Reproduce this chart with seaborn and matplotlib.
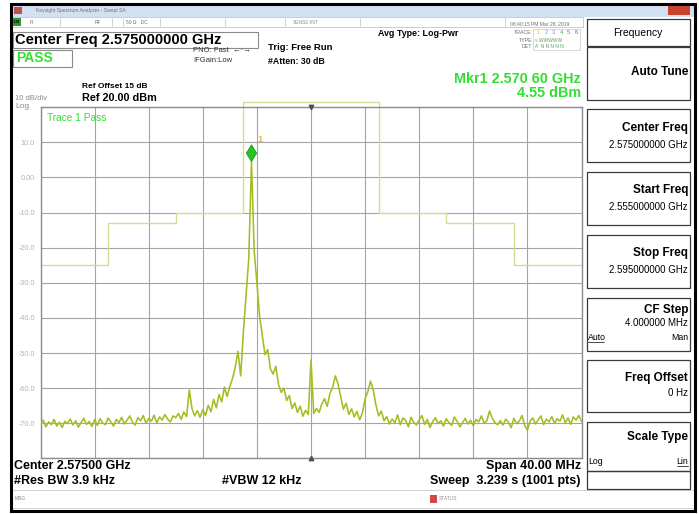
import numpy as np
import matplotlib
matplotlib.use("Agg")
import matplotlib.pyplot as plt
from matplotlib.patches import Rectangle
import seaborn as sns

# screenshot size in px
W, H = 699, 514

# sweep settings (GHz) and the trace, every 0.2 MHz
start_ghz = 2.555
stop_ghz = 2.595
trace_dbm = [
    -70.2, -69.1, -71.0, -69.6, -70.4, -68.9, -70.8, -69.7, -71.2, -69.4,
    -70.1, -68.8, -70.5, -69.3, -71.1, -69.8, -68.6, -70.3, -69.5, -70.9,
    -69.0, -70.6, -68.7, -69.9, -70.4, -68.5, -69.6, -70.8, -68.9, -69.8,
    -68.3, -70.2, -69.1, -67.9, -69.7, -70.5, -68.4, -69.3, -67.8, -70.0,
    -68.6, -69.4, -67.7, -69.9, -68.2, -69.1, -67.5, -68.8, -69.6, -67.9,
    -68.4, -67.2, -68.9, -66.8, -68.1, -60.5, -65.8, -67.9, -66.4, -68.3,
    -66.1, -67.8, -64.9, -66.7, -63.2, -65.6, -61.8, -63.9, -59.7, -62.4,
    -59.5, -57.2, -54.0, -49.5, -56.5, -44.0, -33.5, -23.0, 4.55, -21.0,
    -30.0, -39.5, -45.0, -50.5, -49.0, -54.5, -56.0, -53.8, -59.0, -61.2,
    -60.0, -63.5, -62.1, -65.8, -64.2, -66.9, -65.1, -68.0, -66.3, -67.5,
    -52.0, -67.2, -65.8, -66.9, -64.5, -63.0, -65.2, -61.5, -59.8, -56.5,
    -58.8, -62.5, -66.0, -64.3, -67.5, -65.9, -68.2, -66.6, -69.0, -67.1,
    -63.0, -61.0, -58.0, -60.5, -64.8, -67.9, -66.5, -69.3, -68.1, -70.2,
    -68.8, -69.9, -67.6, -70.4, -68.5, -69.2, -71.0, -68.3, -69.7, -70.5,
    -69.0, -67.8, -70.3, -68.9, -71.2, -69.5, -68.4, -70.1, -69.3, -70.8,
    -68.7, -69.8, -70.6, -68.2, -69.4, -71.0, -69.9, -68.6, -70.2, -69.1,
    -70.7, -68.9, -69.6, -67.9, -70.0, -69.3, -66.5, -68.5, -69.8, -70.4,
    -69.2, -70.5, -68.8, -69.7, -71.3, -68.6, -70.1, -69.4, -67.8, -70.6,
    -72.0, -69.3, -68.5, -70.2, -69.0, -67.9, -70.4, -68.8, -69.6, -68.1,
    -70.0, -68.7, -69.4, -67.6, -69.9, -68.5, -70.3, -68.2, -69.1, -67.8,
    -69.5,
]

# limit line (steps)
limit_ghz = [2.555, 2.560, 2.565, 2.570, 2.580, 2.585, 2.590, 2.595]
limit_dbm = [-25, -13, -10, 21.5, -10, -13, -25, -25]

marker_ghz = 2.5706
marker_dbm = 4.55

ytick_vals = [20, 10, 0, -10, -20, -30, -40, -50, -60, -70, -80]
ytick_text = ["", "10.0", "0.00", "-10.0", "-20.0", "-30.0", "-40.0",
              "-50.0", "-60.0", "-70.0", ""]

# softkeys: title, value, box top, box bottom, title y, value y
softkeys = [
    ("Center Freq", "2.575000000 GHz", 109, 162, 128, 145),
    ("Start Freq", "2.555000000 GHz", 172, 225, 190, 207),
    ("Stop Freq", "2.595000000 GHz", 235, 288, 253, 270),
    ("CF Step", "4.000000 MHz", 298, 351, 310, 323),
    ("Freq Offset", "0 Hz", 360, 412, 378, 393),
    ("Scale Type", "", 422, 471, 437, 0),
]

sns.set_style("white")
plt.rcParams["font.family"] = ["Liberation Sans", "DejaVu Sans"]

fig = plt.figure(figsize=(W / 100, H / 100), dpi=100)


def put(x, y, s, size=6.0, color="black", weight="normal", ha="left", **kw):
    fig.text(x / W, 1 - y / H, s, fontsize=size, color=color,
             fontweight=weight, ha=ha, va="center", **kw)


def box(x0, y0, x1, y1, ec="#4a4a4a", fc=None, lw=0.8, z=0):
    fig.add_artist(Rectangle((x0 / W, 1 - y1 / H), (x1 - x0) / W, (y1 - y0) / H,
                             transform=fig.transFigure, fill=fc is not None,
                             facecolor=fc, edgecolor=ec, linewidth=lw, zorder=z))


def hline(x0, x1, y, color="black", lw=0.5):
    fig.add_artist(plt.Line2D([x0 / W, x1 / W], [1 - y / H, 1 - y / H],
                              transform=fig.transFigure, color=color, lw=lw))


# window chrome
box(12, 4, 694, 17, ec="none", fc="#d3e0f1")
put(36, 10.5, "Keysight Spectrum Analyzer - Swept SA", size=3.6, color="#707070")
box(14, 7, 22, 14, ec="none", fc="#c0504d")
box(668, 6, 690, 15, ec="none", fc="#c8422c")
box(12, 17, 583, 27, ec="#b8b8b8", fc="white", lw=0.5)
box(13, 18, 21, 26, ec="none", fc="#2a9a2a")
put(14, 22, "LXI", size=2.8, color="black", weight="bold")
for sx in [60, 112, 123, 160, 225, 285, 360, 505]:
    fig.add_artist(plt.Line2D([sx / W, sx / W], [1 - 18 / H, 1 - 26 / H],
                              transform=fig.transFigure, color="#c0c0c0", lw=0.5))
put(30, 22, "R", size=3.5, color="#707070")
put(95, 22, "RF", size=3.5, color="#707070")
put(126, 22, "50 Ω   DC", size=3.5, color="#707070")
put(293, 22, "SENSE:INT", size=3.5, color="#909090")
put(510, 24, "06:40:15 PM Mar 28, 2019", size=3.6, color="#707070")

# header texts
box(13, 32, 258, 48, ec="#8a8a8a", lw=0.8)
put(15, 40, "Center Freq 2.575000000 GHz", size=10.5, weight="bold")
box(13, 50, 72, 67, ec="#8a8a8a", lw=0.8)
put(16, 58.5, "PASS", size=10, weight="bold", color="#33dd33")
put(193, 51, "PNO: Fast  ←·→", size=5.5, color="#303030")
put(193, 61, "IFGain:Low", size=5.5, color="#303030")
put(268, 48, "Trig: Free Run", size=6.8, weight="bold")
put(268, 61, "#Atten: 30 dB", size=6.3, weight="bold")
put(378, 34, "Avg Type: Log-Pwr", size=6.4, weight="bold")
put(532, 33, "TRACE", size=3.8, color="#707070", ha="right")
put(532, 40, "TYPE", size=3.8, color="#707070", ha="right")
put(532, 47, "DET", size=3.8, color="#707070", ha="right")
box(533, 29, 580, 50, ec="#c8c8c8", lw=0.5)
for i, c in enumerate(["#d8c020", "#40c0e0", "#c060e0", "#30b030", "#e04080", "#4060e0"]):
    put(537 + i * 7.5, 33, str(i + 1), size=4, color=c)
put(535, 40, "≈ WWWWW", size=3.5, color="#60a060")
put(535, 47, "A  N N N N N", size=3.5, color="#60a060")
put(581, 79, "Mkr1 2.570 60 GHz", size=10.4, weight="bold", color="#33dd33", ha="right")
put(581, 93, "4.55 dBm", size=10.4, weight="bold", color="#33dd33", ha="right")
put(82, 86, "Ref Offset 15 dB", size=6, weight="bold")
put(82, 98, "Ref 20.00 dBm", size=7.8, weight="bold")
put(15, 99, "10 dB/div", size=5.5, color="#8a8a8a")
put(15, 106.5, "Log", size=6, color="#8a8a8a")

# plot area
ax = fig.add_axes([40.5 / W, 1 - 458.4 / H, 541 / W, 351.2 / H])
freq_ghz = np.linspace(start_ghz, stop_ghz, len(trace_dbm))
sns.lineplot(x=limit_ghz, y=limit_dbm, ax=ax, color="#d7d994", lw=1.0,
             drawstyle="steps-post", clip_on=False, zorder=2)
sns.lineplot(x=freq_ghz, y=trace_dbm, ax=ax, color="#a3bd22", lw=1.15, zorder=3)
diamond = [(0, 0), (-0.62, 1.0), (0, 2.0), (0.62, 1.0), (0, 0)]
ax.plot([marker_ghz], [marker_dbm], marker=diamond, markersize=24,
        color="#27c427", markeredgecolor="#1b9a1b", markeredgewidth=0.6,
        zorder=5, clip_on=False)
ax.annotate("1", (marker_ghz, marker_dbm), xytext=(4, 14), textcoords="offset points",
            fontsize=6.5, color="#e8b838", fontweight="bold")
ax.plot([2.575], [20], marker="v", markersize=3.2, color="#505050", clip_on=False, zorder=6)
ax.plot([2.575], [-80], marker="^", markersize=3.2, color="#505050", clip_on=False, zorder=6)

ax.set_xlim(start_ghz, stop_ghz)
ax.set_ylim(-80, 20)
ax.set_xticks(np.linspace(start_ghz, stop_ghz, 11))
ax.set_xticklabels([])
ax.set_yticks(ytick_vals)
ax.set_yticklabels(ytick_text)
ax.tick_params(length=0, pad=4, labelsize=5.2, labelcolor="#b4b4b4")
ax.grid(True, color="#a4a4a4", lw=0.8)
for sp in ax.spines.values():
    sp.set_color("#8c8c8c")
    sp.set_linewidth(1.0)
ax.text(0.012, 0.968, "Trace 1 Pass", transform=ax.transAxes, fontsize=7.3,
        color="#33dd33", va="center")

# footer
put(14, 466, "Center 2.57500 GHz", size=9, weight="bold")
put(14, 481, "#Res BW 3.9 kHz", size=9, weight="bold")
put(222, 481, "#VBW 12 kHz", size=9, weight="bold")
put(581, 466, "Span 40.00 MHz", size=9, weight="bold", ha="right")
put(581, 481, "Sweep  3.239 s (1001 pts)", size=9, weight="bold", ha="right")
box(12, 490, 694, 508, ec="#c0c0c0", lw=0.5)
put(15, 499, "MSG", size=3.5, color="#808080")
box(430, 495, 437, 503, ec="none", fc="#d04a4a")
put(439, 499, "STATUS", size=3.5, color="#909090")

# softkey panel
box(587, 19, 690, 46, ec="#3a3a3a", lw=0.9)
put(638, 32.5, "Frequency", size=7.5, ha="center")
box(587, 47, 690, 100, ec="#3a3a3a", lw=0.9)
put(688, 72, "Auto Tune", size=8.5, weight="bold", ha="right")
for title, value, y0, y1, ty, vy in softkeys:
    box(587, y0, 690, y1, ec="#3a3a3a", lw=0.9)
    put(688, ty, title, size=8.5, weight="bold", ha="right")
    if value:
        put(688, vy, value, size=7.0, ha="right")
put(588, 338, "Auto", size=6.3)
hline(588, 604, 342)
put(688, 338, "Man", size=6.3, ha="right")
put(588, 462, "Log", size=6.3)
put(688, 462, "Lin", size=6.3, ha="right")
hline(677, 688, 466)
box(587, 471, 690, 489, ec="#3a3a3a", lw=0.9)

# outer black frame
box(11, 4, 695, 511, ec="black", lw=2.2, z=10)

fig.savefig("out.png", dpi=100)
